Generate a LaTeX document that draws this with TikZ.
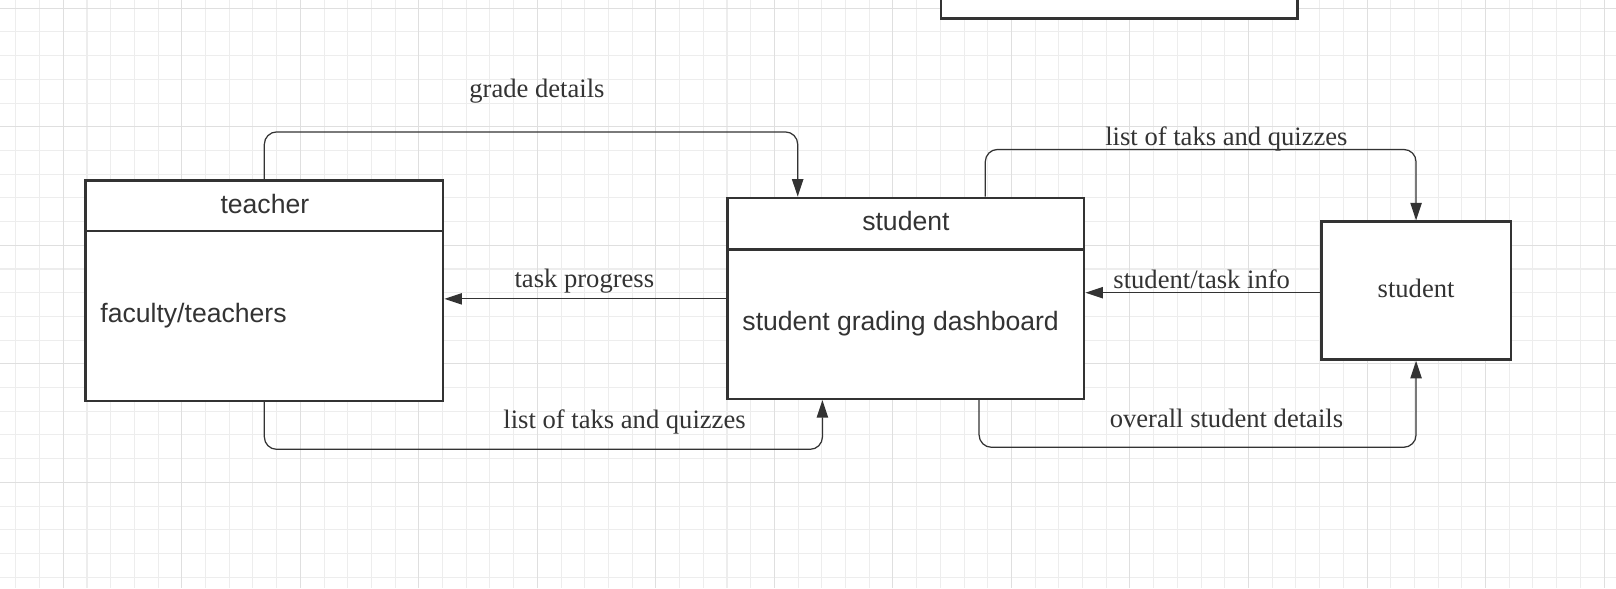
\documentclass[tikz,border=0pt]{standalone}
\usepackage{fontspec}
\setmainfont{Liberation Serif}
\setsansfont{Liberation Sans}
\usetikzlibrary{arrows.meta}
\definecolor{ink}{HTML}{333333}
\definecolor{gminor}{HTML}{EDEDED}
\definecolor{gmajor}{HTML}{DFDFDF}
\tikzset{
  box/.style={draw=ink, line width=1.2pt, fill=white, rectangle, inner sep=0pt},
  conn/.style={draw=ink, line width=0.6pt, rounded corners=6pt, -{Triangle[length=8.5pt,width=5.5pt]}},
  divider/.style={draw=ink, line width=1.2pt},
  sanslab/.style={text=ink, inner sep=0pt, font=\sffamily\fontsize{12.9}{15}\selectfont},
  serlab/.style={text=ink, inner sep=0pt, font=\rmfamily\fontsize{12.9}{15}\selectfont},
  gridminor/.style={draw=gminor, line width=0.5pt},
  gridmajor/.style={draw=gmajor, line width=0.5pt}
}
\begin{document}
\begin{tikzpicture}[x=0.5pt, y=-0.5pt]
\useasboundingbox (0,0) rectangle (1568,571);
\clip (0,0) rectangle (1568,571);
\fill[white] (0,0) rectangle (1568,571);
% grid
\foreach \i in {0,...,68} {\draw[gridminor] ({15.4+23*\i},0) -- ({15.4+23*\i},571);}
\foreach \i in {0,...,25} {\draw[gridminor] (0,{8+23*\i}) -- (1568,{8+23*\i});}
\foreach \i in {0,...,13} {\draw[gridmajor] ({61.4+115*\i},0) -- ({61.4+115*\i},571);}
\foreach \i in {0,...,4} {\draw[gridmajor] (0,{8+115*\i}) -- (1568,{8+115*\i});}

% boxes
\node[box, minimum width=173pt, minimum height=14pt] (topbox) at (1086,4) {};
\node[box, minimum width=173.5pt, minimum height=107pt] (teacher) at (256.5,282) {};
\draw[divider] (teacher.west |- 0,224) -- (teacher.east |- 0,224);
\node[sanslab] (teacherlab) at (257,197.5) {teacher};
\node[sanslab, anchor=west] (faculty) at (97,306) {faculty/teachers};

\node[box, minimum width=173pt, minimum height=97.5pt] (student) at (879,289.5) {};
\draw[divider] (student.west |- 0,242) -- (student.east |- 0,242);
\node[sanslab] (studentlab) at (879,214) {student};
\node[sanslab, anchor=west] (dash) at (720,314) {student grading dashboard};

\node[box, minimum width=92pt, minimum height=67pt] (rstudent) at (1374,282) {};
\node[serlab] (rstudentlab) at (1374,280) {student};

% connectors
\coordinate (g1) at (774,128);
\draw[conn] (teacher.north) |- (g1) -- (student.north -| g1);
\node[serlab] (gradelab) at (521,88) {grade details};

\coordinate (q1) at (956,145);
\draw[conn] (student.north -| q1) -- (q1) -| (rstudent.north);
\node[serlab] (listtop) at (1190,135) {list of taks and quizzes};

\coordinate (tp) at (0,290);
\draw[conn] (student.west |- tp) -- (teacher.east |- tp);
\node[serlab] (tasklab) at (567,273) {task progress};

\coordinate (si) at (0,284);
\draw[conn] (rstudent.west |- si) -- (student.east |- si);
\node[serlab] (infolab) at (1166,270.5) {student/task info};

\coordinate (b1) at (798,436);
\draw[conn] (teacher.south) |- (b1) -- (student.south -| b1);
\node[serlab] (listbot) at (606,409) {list of taks and quizzes};

\coordinate (b2) at (950,434);
\draw[conn] (student.south -| b2) -- (b2) -| (rstudent.south);
\node[serlab] (overall) at (1190,406) {overall student details};
\end{tikzpicture}
\end{document}
